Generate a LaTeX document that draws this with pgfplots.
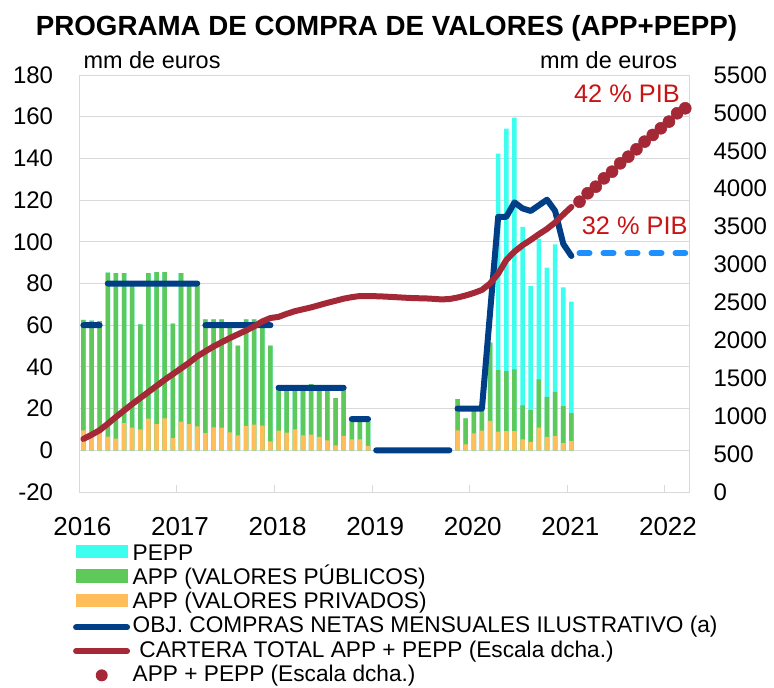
\documentclass[border=0pt]{standalone}
\usepackage{fontspec}
\setmainfont{Liberation Sans}
\usepackage{pgfplots}
\pgfplotsset{compat=1.18}
\usepackage{pgfplotstable}

\definecolor{pepp}{RGB}{60,255,240}
\definecolor{apppub}{RGB}{95,200,90}
\definecolor{apppriv}{RGB}{255,190,90}
\definecolor{obj}{RGB}{0,63,135}
\definecolor{cart}{RGB}{165,40,55}
\definecolor{proj}{RGB}{30,144,255}
\definecolor{pib}{RGB}{200,20,20}
\definecolor{gridc}{RGB}{217,217,217}

% month index: 0 = Jan 2016 ; cumulative tops of the stacked bars
\pgfplotstableread{
m priv app tot
0 9.6 62.5 62.5
1 8.6 62.2 62.2
2 8.5 62.0 62.0
3 6.6 85.2 85.2
4 5.6 85.0 85.0
5 13.0 85.0 85.0
6 10.9 78.8 78.8
7 10.0 60.4 60.4
8 15.2 85.0 85.0
9 12.5 85.5 85.5
10 15.3 85.5 85.5
11 5.8 60.7 60.7
12 13.7 85.0 85.0
13 12.5 78.8 78.8
14 11.5 78.8 78.8
15 8.3 62.8 62.8
16 11.0 62.8 62.8
17 10.9 62.8 62.8
18 8.6 60.3 60.3
19 7.2 50.2 50.2
20 11.7 62.8 62.8
21 12.3 62.8 62.8
22 11.8 60.4 60.4
23 4.3 50.2 50.2
24 9.4 30.9 30.9
25 8.5 29.5 29.5
26 10.0 29.6 29.6
27 7.2 29.6 29.6
28 7.5 31.7 31.7
29 6.4 29.3 29.3
30 4.8 28.6 28.6
31 2.4 25.0 25.0
32 6.9 29.6 29.6
33 5.3 14.9 14.9
34 5.3 14.5 14.5
35 2.1 14.0 14.0
46 9.6 24.5 24.5
47 2.9 15.3 15.3
48 8.1 18.9 18.9
49 9.5 19.5 19.5
50 14.1 51.6 51.6
51 9.0 38.4 142.3
52 9.2 38.0 154.3
53 9.2 38.8 159.6
54 5.3 21.6 107.2
55 4.1 19.3 78.7
56 10.9 34.0 101.5
57 6.4 25.6 87.6
58 6.9 28.0 98.8
59 3.4 21.2 78.2
60 4.5 17.8 71.3
}\bars

\pgfplotstableread{
m v
0 60
2 60
2.5 nan
3 80
14 80
14.5 nan
15 60
23 60
23.5 nan
24 30
32 30
32.5 nan
33 15
35 15
35.5 nan
36 0
45 0
45.5 nan
46 20
47 20
48 20
49 20
50 66
51 112
52 112
53 118.9
54 116.0
55 114.8
56 117.5
57 120.2
58 114.8
59 99.0
60 93.2
}\obj

\pgfplotstableread{
m v
0 700
1 755
2 815
3 900
4 990
5 1075
6 1160
7 1240
8 1320
9 1400
10 1480
11 1555
12 1630
13 1705
14 1790
15 1855
16 1920
17 1975
18 2030
19 2080
20 2130
21 2185
22 2250
23 2295
24 2310
25 2350
26 2385
27 2410
28 2435
29 2465
30 2495
31 2522
32 2550
33 2570
34 2585
35 2585
36 2582
37 2578
38 2572
39 2566
40 2560
41 2556
42 2554
43 2548
44 2540
45 2545
46 2565
47 2592
48 2625
49 2665
50 2750
51 2880
52 3060
53 3170
54 3255
55 3325
56 3400
57 3470
58 3555
59 3660
60 3760
}\cart

\pgfplotstableread{
m v
61 3829
62 3940
63 4027
64 4137
65 4225
66 4335
67 4423
68 4520
69 4621
70 4709
71 4797
72 4885
73 4995
74 5061
}\proyec

\begin{document}
\begin{tikzpicture}
\useasboundingbox (-59.5pt,-146.25pt) rectangle (521pt,369pt);
\begin{axis}[
  scale only axis, width=457.5pt, height=312.75pt,
  xmin=-0.5, xmax=74.5, ymin=-20, ymax=180,
  unbounded coords=jump,
  xtick={-0.5,11.5,23.5,35.5,47.5,59.5,71.5},
  xticklabels={2016,2017,2018,2019,2020,2021,2022},
  ytick={-20,0,20,40,60,80,100,120,140,160,180},
  yticklabels={-20,0,20,40,60,80,100,120,140,160,180},
  ymajorgrids, grid style={gridc, line width=0.75pt},
  axis line style={gridc, line width=0.75pt},
  xtick pos=left, ytick style={draw=none},
  xtick style={gridc, line width=0.75pt}, major tick length=5pt,
  x tick label style={font=\fontsize{19.5}{20}\selectfont, anchor=north, inner sep=0pt, yshift=-18.5pt, xshift=2.3pt},
  y tick label style={font=\fontsize{18}{20}\selectfont, anchor=east, inner sep=0pt, xshift=-19.5pt},
  legend cell align=left,
  legend style={at={(axis description cs:0,0)}, anchor=north west, xshift=-4.7pt, yshift=-39pt,
    draw=none, fill=none, inner sep=0pt, outer sep=0pt, row sep=2.2pt, column sep=2pt,
    font=\fontsize{17}{20}\selectfont,
    nodes={inner sep=0pt, text height=12pt, text depth=4pt, anchor=west}},
]
\addlegendimage{legend image code/.code={\path[draw=none, fill=none] (0pt,-3pt) rectangle (42.75pt,7.2pt); \fill[pepp, draw=none] (2.25pt,-2.8pt) rectangle (41.5pt,7.2pt);}}
\addlegendentry{PEPP}
\addlegendimage{legend image code/.code={\path[draw=none, fill=none] (0pt,-3pt) rectangle (42.75pt,7.2pt); \fill[apppub, draw=none] (2.25pt,-2.8pt) rectangle (41.5pt,7.2pt);}}
\addlegendentry{APP (VALORES PÚBLICOS)}
\addlegendimage{legend image code/.code={\path[draw=none, fill=none] (0pt,-3pt) rectangle (42.75pt,7.2pt); \fill[apppriv, draw=none] (2.25pt,-2.8pt) rectangle (41.5pt,7.2pt);}}
\addlegendentry{APP (VALORES PRIVADOS)}
\addlegendimage{legend image code/.code={\path[draw=none, fill=none] (0pt,-3pt) rectangle (42.75pt,7.2pt); \draw[obj, line width=4.5pt, line cap=round] (2.25pt,0pt) -- (40.5pt,0pt);}}
\addlegendentry{OBJ. COMPRAS NETAS MENSUALES ILUSTRATIVO (a)}
\addlegendimage{legend image code/.code={\path[draw=none, fill=none] (0pt,-3pt) rectangle (42.75pt,7.2pt); \draw[cart, line width=4.5pt, line cap=round] (2.25pt,0.5pt) -- (40.5pt,0.5pt);}}
\addlegendentry{\hspace{5pt}CARTERA TOTAL APP + PEPP (Escala dcha.)}
\addlegendimage{legend image code/.code={\path[draw=none, fill=none] (0pt,-3pt) rectangle (42.75pt,7.2pt); \fill[cart, draw=none] (21.5pt,0.5pt) circle (4.5pt);}}
\addlegendentry{APP + PEPP (Escala dcha.)}

\addplot[ybar, bar width=3.4pt, bar shift=0pt, fill=pepp, draw=none, forget plot] table[x=m, y=tot]{\bars};
\addplot[ybar, bar width=3.4pt, bar shift=0pt, fill=apppub, draw=none, forget plot] table[x=m, y=app]{\bars};
\addplot[ybar, bar width=3.4pt, bar shift=0pt, fill=apppriv, draw=none, forget plot] table[x=m, y=priv]{\bars};
\addplot[obj, line width=4.5pt, line cap=round, line join=round, forget plot] table[x=m, y=v]{\obj};
\addplot[proj, line width=4.5pt, line cap=round, dash pattern=on 7.5pt off 10.5pt, forget plot] coordinates {(61,94.5) (74,94.5)};
\end{axis}

\begin{axis}[
  scale only axis, width=457.5pt, height=312.75pt,
  xmin=-0.5, xmax=74.5, ymin=0, ymax=5500,
  axis y line*=right, axis x line=none,
  ytick={0,500,1000,1500,2000,2500,3000,3500,4000,4500,5000,5500},
  yticklabels={0,500,1000,1500,2000,2500,3000,3500,4000,4500,5000,5500},
  ytick style={draw=none},
  axis line style={gridc, line width=0.75pt},
  y tick label style={font=\fontsize{18}{20}\selectfont, anchor=west, inner sep=0pt, xshift=18pt},
  clip=false,
]
\addplot[cart, line width=4.5pt, line cap=round, line join=round] table[x=m, y=v]{\cart};
\addplot[only marks, mark=*, mark size=4.5pt, mark options={draw=cart, fill=cart}] table[x=m, y=v]{\proyec};
\end{axis}

\node[anchor=base, font=\bfseries\fontsize{20.8}{24}\selectfont, inner sep=0pt] at (230.4pt,342.75pt) {PROGRAMA DE COMPRA DE VALORES (APP+PEPP)};
\node[anchor=base west, font=\fontsize{17.6}{20}\selectfont, inner sep=0pt] at (3pt,317.8pt) {mm de euros};
\node[anchor=base east, font=\fontsize{17.6}{20}\selectfont, inner sep=0pt] at (448.5pt,317.8pt) {mm de euros};
\node[anchor=base east, text=pib, font=\fontsize{19}{20}\selectfont, inner sep=0pt] at (450.5pt,291.8pt) {42 \% PIB};
\node[anchor=base east, text=pib, font=\fontsize{19}{20}\selectfont, inner sep=0pt] at (456.3pt,193pt) {32 \% PIB};
\end{tikzpicture}
\end{document}
